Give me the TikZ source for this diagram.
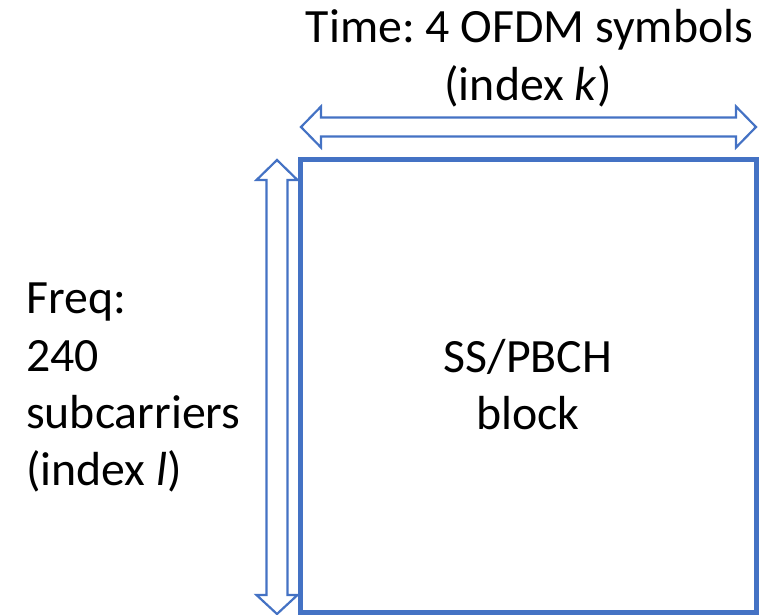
\documentclass[tikz,border=0pt]{standalone}
\usepackage{fontspec}
\setmainfont{Carlito}
\definecolor{ppblue}{HTML}{4472C4}
\begin{document}
\frenchspacing
\begin{tikzpicture}[x=1pt,y=-1pt,
  lbl/.style={font=\fontsize{47.8}{58}\selectfont, inner sep=0pt, text=black},
  outarrow/.style={draw=ppblue, line width=2.2pt, fill=white, line join=miter},
  blockbox/.style={draw=ppblue, line width=5.5pt}]
\useasboundingbox (0,0) rectangle (769,615);
% block
\node[blockbox, minimum width=456pt, minimum height=453pt, inner sep=0pt] (blk) at (528.5,386) {};
% horizontal double arrow
\draw[outarrow] (301,127) -- (321,106.5) -- (321,117.5) -- (736,117.5) -- (736,106.5) -- (756,127)
  -- (736,147.5) -- (736,136.5) -- (321,136.5) -- (321,147.5) -- cycle;
% vertical double arrow
\draw[outarrow] (277,160) -- (297.5,180) -- (287.5,180) -- (287.5,595) -- (297.5,595) -- (277,614)
  -- (256.5,595) -- (266.5,595) -- (266.5,180) -- (256.5,180) -- cycle;
\coordinate (ht) at (301,127);
\coordinate (vt) at (277,160);
% texts
\node[lbl, anchor=base] (t1) at (529.5,42.5) {Time: 4 OFDM symbols};
\node[lbl, anchor=base] (t2) at (528,100.5) {(index \textit{k})};
\node[lbl, anchor=base west] (f1) at (26,313.5) {Freq:};
\node[lbl, anchor=base west] (f2) at (26,371) {240};
\node[lbl, anchor=base west] (f3) at (26,428) {subcarriers};
\node[lbl, anchor=base west] (f4) at (26,485) {(index \textit{l})};
\node[lbl, anchor=base] (b1) at (528,372) {SS/PBCH};
\node[lbl, anchor=base] (b2) at (528,429) {block};
\end{tikzpicture}
\end{document}
